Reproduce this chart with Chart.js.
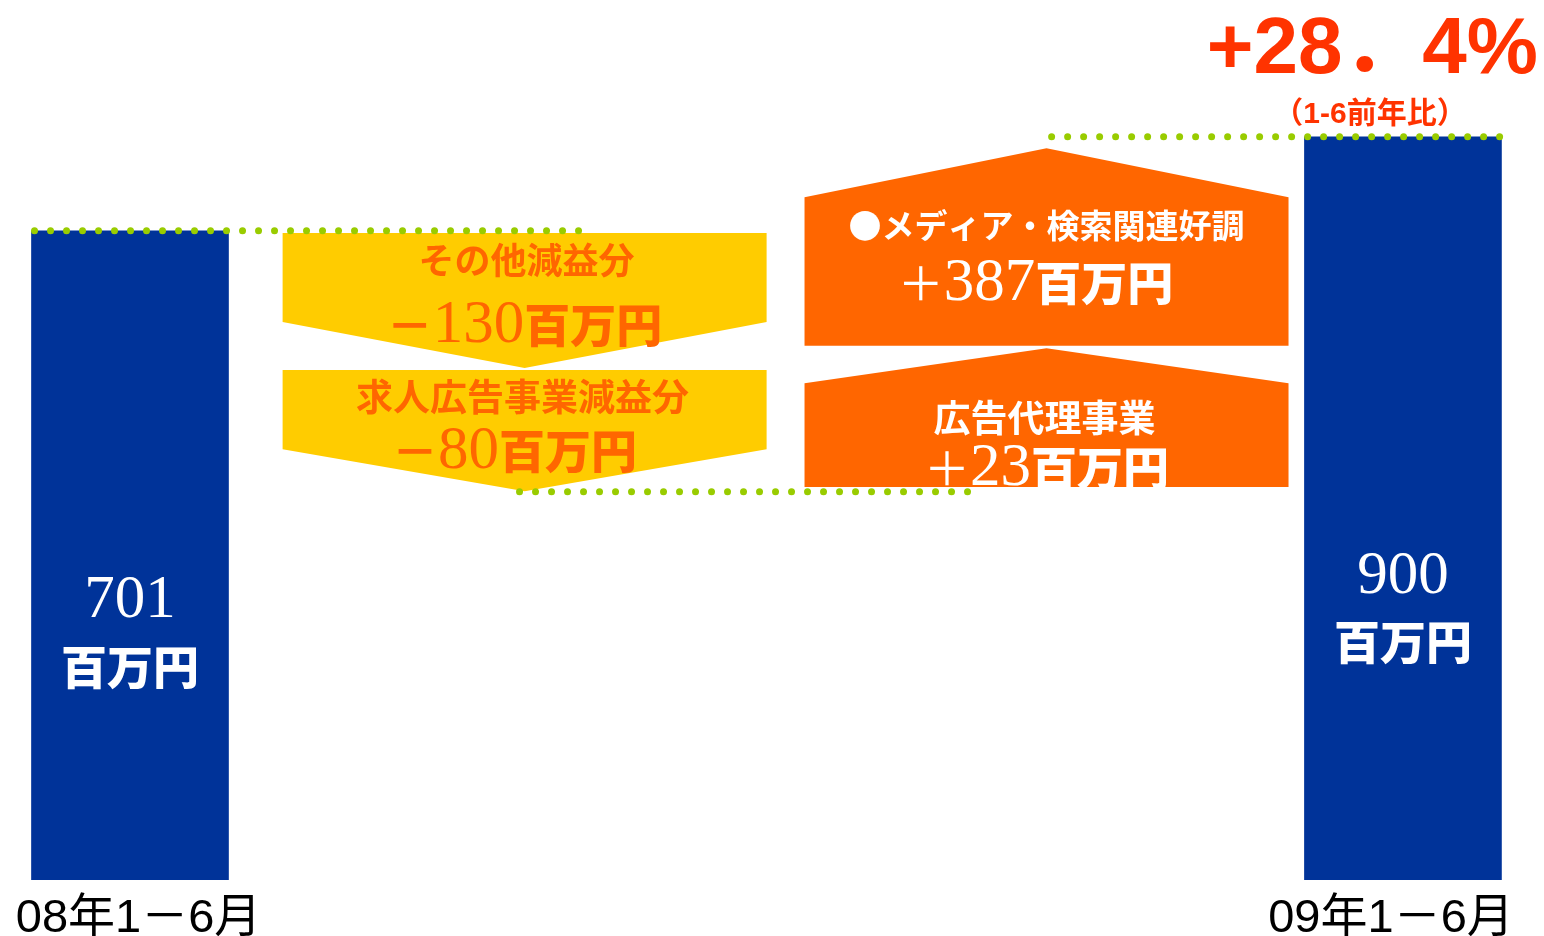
<!DOCTYPE html>
<html lang="ja">
<head>
<meta charset="utf-8">
<title>営業利益 増減要因</title>
<script src="https://cdn.jsdelivr.net/npm/chart.js@4.4.1/dist/chart.umd.min.js"></script>
<style>
html,body{margin:0;padding:0;background:#ffffff;}
#wrap{width:1544px;height:936px;position:relative;}
canvas{display:block;}
</style>
</head>
<body>
<div id="wrap"><canvas id="c" width="1544" height="936"></canvas></div>
<script>
// ---------------- data ----------------
const periodLabels = ['08年1－6月', '09年1－6月'];
const periodValues = [701, 900];
const periodPos = [0, 10];

const stepLabels = ['その他減益分', '求人広告事業減益分', '広告代理事業', '●メディア・検索関連好調'];
const stepValues = [-130, -80, 23, 387];
const stepPos = [3.1, 3.1, 7.2, 7.2];
// extent of each arrow on the value axis, as drawn in the (not to scale) picture
const stepSpans = [[696, 410], [406, 149], [158, 452], [457, 876]];

const connectorLevels = [701, 148, 900];
const connectorFrom = [-0.75, 3.06, 7.24];
const connectorTo = [3.53, 6.6, 10.78];

const growthText = '+28．4%';
const growthNote = '（1-6前年比）';
const unitText = '百万円';

// ---------------- styles ----------------
const BLUE = '#003399', YELLOW = '#FFCC00', ORANGE = '#FF6600', RED = '#FF3300', GREEN = '#99CC00';
const CJK = "'Noto Sans CJK JP'";
const SERIF = "'Liberation Serif', 'DejaVu Serif'";
const tickLabelNudge = [0.067, -0.094];   // small horizontal nudge of the category labels

function drawRuns(ctx, runs, cx, baseline) {
  let total = 0;
  runs.forEach(r => { ctx.font = r.font; r.w = ctx.measureText(r.text).width; total += r.w; });
  let x = cx - total / 2;
  ctx.textAlign = 'left';
  ctx.textBaseline = 'alphabetic';
  runs.forEach(r => { ctx.font = r.font; ctx.fillText(r.text, x, baseline); x += r.w; });
}

const waterfallPlugin = {
  id: 'waterfallShapes',
  afterDatasetDraw(chart, args, opts) {
    const ctx = chart.ctx;
    const meta = args.meta;
    if (args.index === 0) {
      meta.data.forEach((el, i) => {
        const top = Math.min(el.y, el.base);
        ctx.save();
        ctx.fillStyle = '#ffffff';
        ctx.textAlign = 'center';
        ctx.textBaseline = 'alphabetic';
        ctx.font = '61px ' + SERIF;
        ctx.fillText(String(periodValues[i]), el.x, top + opts.barNumY[i]);
        ctx.font = '900 46px ' + CJK;
        ctx.fillText(unitText, el.x, top + opts.barUnitY[i]);
        ctx.restore();
      });
    }
    if (args.index === 1) {
      meta.data.forEach((el, i) => {
        const down = stepValues[i] < 0;
        const top = Math.min(el.y, el.base), bot = Math.max(el.y, el.base);
        const L = el.x - el.width / 2, R = el.x + el.width / 2, d = opts.depth[i];
        ctx.save();
        ctx.beginPath();
        if (down) {
          ctx.moveTo(L, top); ctx.lineTo(R, top); ctx.lineTo(R, bot - d);
          ctx.lineTo(el.x, bot); ctx.lineTo(L, bot - d);
        } else {
          ctx.moveTo(L, bot); ctx.lineTo(R, bot); ctx.lineTo(R, top + d);
          ctx.lineTo(el.x, top); ctx.lineTo(L, top + d);
        }
        ctx.closePath();
        ctx.fillStyle = down ? YELLOW : ORANGE;
        ctx.fill();

        ctx.fillStyle = down ? ORANGE : '#ffffff';
        const ls = opts.labelSize[i];
        drawRuns(ctx, [{ text: stepLabels[i], font: 'bold ' + ls + 'px ' + CJK }],
          el.x + opts.labelDx[i], top + opts.labelY[i] + ls * 0.38);
        const sign = stepValues[i] < 0 ? '－' : '＋';
        drawRuns(ctx, [
          { text: sign, font: (down ? 'bold ' : '') + '46px ' + CJK },
          { text: String(Math.abs(stepValues[i])), font: '61px ' + SERIF },
          { text: unitText, font: '900 46px ' + CJK }
        ], el.x + opts.valueDx[i], top + opts.valueY[i]);
        ctx.restore();
      });
    }
  },
  afterDraw(chart) {
    const ctx = chart.ctx;
    ctx.save();
    ctx.fillStyle = RED;
    ctx.textBaseline = 'alphabetic';
    ctx.textAlign = 'right';
    ctx.font = "bold 80px 'Liberation Sans', " + CJK;
    ctx.fillText(growthText, chart.width - 6, 73);
    ctx.textAlign = 'center';
    ctx.font = "bold 30px 'Liberation Sans', " + CJK;
    ctx.fillText(growthNote, 1370, 123);
    ctx.restore();
  }
};

const connectorSets = connectorLevels.map((lv, i) => ({
  type: 'line',
  data: [{ x: connectorFrom[i], y: lv }, { x: connectorTo[i], y: lv }],
  borderColor: GREEN,
  borderWidth: 7,
  borderDash: [0, 16],
  borderCapStyle: 'round',
  pointRadius: 0,
  fill: false,
  order: -1
}));

new Chart(document.getElementById('c'), {
  type: 'bar',
  data: {
    datasets: [
      {
        data: periodPos.map((x, i) => ({ x: x, y: periodValues[i] })),
        backgroundColor: BLUE,
        barThickness: 197,
        base: -675,
        stack: 's',
        order: 1
      },
      {
        data: stepPos.map((x, i) => ({ x: x, y: stepSpans[i] })),
        backgroundColor: 'rgba(0,0,0,0)',
        borderWidth: 0,
        barThickness: 484,
        stack: 's',
        order: 1
      },
      ...connectorSets
    ]
  },
  options: {
    responsive: false,
    animation: false,
    events: [],
    layout: { padding: 0 },
    scales: {
      x: {
        type: 'linear',
        offset: false,
        bounds: 'ticks',
        min: -1.0212,
        max: 11.108,
        grid: { display: false, offset: false },
        border: { display: false },
        afterBuildTicks: (axis) => { axis.ticks = periodPos.map((v, i) => ({ value: v + tickLabelNudge[i] })); },
        afterFit: (axis) => { axis.height = 56; },
        ticks: {
          padding: 3,
          color: '#000000',
          font: { family: "'Liberation Sans', " + CJK, size: 47 },
          maxRotation: 0,
          autoSkip: false,
          callback: (v, idx) => periodLabels[idx]
        }
      },
      y: {
        display: false,
        stacked: false,
        min: -675,
        max: 1190
      }
    },
    plugins: {
      legend: { display: false },
      tooltip: { enabled: false },
      waterfallShapes: {
        depth: [46, 42, 35, 49],
        labelY: [27, 27, 70, 77],
        labelDx: [2, -2, -2, 0],
        labelSize: [36, 37, 37, 33],
        valueY: [109, 98, 137, 152],
        valueDx: [0, -10, 0, -11],
        barNumY: [386, 456],
        barUnitY: [453, 522]
      }
    }
  },
  plugins: [waterfallPlugin]
});
</script>
</body>
</html>
